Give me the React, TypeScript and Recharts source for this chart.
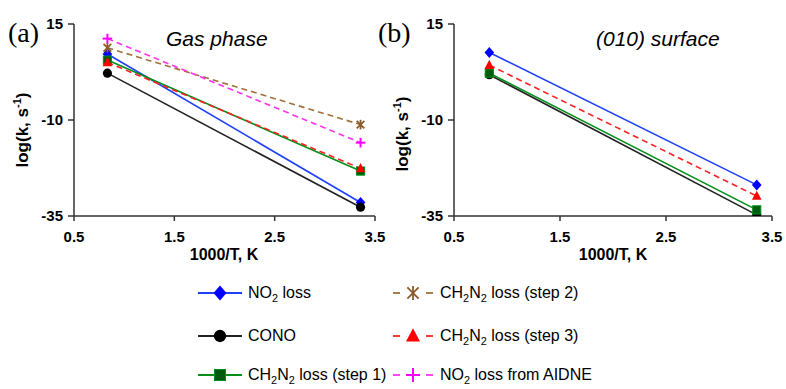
import React from 'react';
import { LineChart, Line, XAxis, YAxis } from 'recharts';

// 1000/T values for the two temperatures
const xValues = [0.833, 3.356];

// Gas phase, log(k)
const gasNO2 = [7.2, -31.5];
const gasCONO = [2.2, -32.7];
const gasStep1 = [5.6, -23.3];
const gasStep2 = [8.8, -11.2];
const gasStep3 = [5.0, -22.6];
const gasAidne = [11.2, -15.9];

// (010) surface, log(k)
const surfNO2 = [7.6, -26.9];
const surfCONO = [1.8, -34.7];
const surfStep1 = [2.2, -33.4];
const surfStep3 = [4.3, -29.8];

const xTicks = [0.5, 1.5, 2.5, 3.5];
const yTicks = [-35, -10, 15];

const FONT = 'Arial, "Liberation Sans", sans-serif';
const AXIS = '#333333';

type Shape = 'diamond' | 'circle' | 'square' | 'star' | 'triangle' | 'plus';

const seriesStyle: Record<string, { color: string; fill: string; shape: Shape; dash?: string; label: string }> = {
  no2: { color: '#1f3fff', fill: '#0000ff', shape: 'diamond', label: 'NO2 loss' },
  cono: { color: '#222222', fill: '#000000', shape: 'circle', label: 'CONO' },
  step1: { color: '#00901a', fill: '#005a10', shape: 'square', label: 'CH2N2 loss (step 1)' },
  step2: { color: '#a0703a', fill: '#8b5a2b', shape: 'star', dash: '6 4', label: 'CH2N2 loss (step 2)' },
  step3: { color: '#ff2020', fill: '#ff0000', shape: 'triangle', dash: '6 4', label: 'CH2N2 loss (step 3)' },
  aidne: { color: '#ff33ee', fill: '#ff00ff', shape: 'plus', dash: '6 4', label: 'NO2 loss from AIDNE' },
};

function Marker({ shape, cx, cy, s, color, fill }: { shape: Shape; cx: number; cy: number; s: number; color: string; fill: string }) {
  if (shape === 'diamond')
    return <polygon points={`${cx},${cy - s * 1.15} ${cx + s},${cy} ${cx},${cy + s * 1.15} ${cx - s},${cy}`} fill={fill} />;
  if (shape === 'circle') return <circle cx={cx} cy={cy} r={s * 0.95} fill={fill} />;
  if (shape === 'square')
    return <rect x={cx - s * 0.85} y={cy - s * 0.85} width={s * 1.7} height={s * 1.7} fill={fill} stroke={color} strokeWidth={1} />;
  if (shape === 'triangle')
    return <polygon points={`${cx},${cy - s * 1.1} ${cx + s},${cy + s * 0.8} ${cx - s},${cy + s * 0.8}`} fill={fill} />;
  if (shape === 'plus')
    return (
      <g stroke={fill} strokeWidth={2}>
        <line x1={cx - s} y1={cy} x2={cx + s} y2={cy} />
        <line x1={cx} y1={cy - s} x2={cx} y2={cy + s} />
      </g>
    );
  // star: X plus vertical bar
  return (
    <g stroke={fill} strokeWidth={1.8}>
      <line x1={cx - s * 0.8} y1={cy - s * 0.8} x2={cx + s * 0.8} y2={cy + s * 0.8} />
      <line x1={cx - s * 0.8} y1={cy + s * 0.8} x2={cx + s * 0.8} y2={cy - s * 0.8} />
      <line x1={cx} y1={cy - s} x2={cx} y2={cy + s} />
    </g>
  );
}

const toPoints = (ys: number[]) => ys.map((y, i) => ({ x: xValues[i], y }));

function makeDot(key: string) {
  const st = seriesStyle[key];
  return (props: any) => (
    <Marker key={`${key}-${props.index}`} shape={st.shape} cx={props.cx} cy={props.cy} s={4.8} color={st.color} fill={st.fill} />
  );
}

// digits right after a capital letter become subscripts
function Formula({ text, x, y, size }: { text: string; x: number; y: number; size: number }) {
  const parts: React.ReactNode[] = [];
  let buf = '';
  let sub = false;
  let wasSub = false;
  const flush = (k: number) => {
    if (!buf) return;
    if (sub) {
      parts.push(<tspan key={k} fontSize={size * 0.68} dy={size * 0.26}>{buf}</tspan>);
    } else {
      parts.push(<tspan key={k} dy={wasSub ? -size * 0.26 : 0}>{buf}</tspan>);
    }
    wasSub = sub;
    buf = '';
  };
  for (let i = 0; i < text.length; i++) {
    const c = text[i];
    const isSub = /[0-9]/.test(c) && i > 0 && /[A-Z]/.test(text[i - 1]);
    if (isSub !== sub) {
      flush(i);
      sub = isSub;
    }
    buf += c;
  }
  flush(text.length);
  return (
    <text x={x} y={y} fontSize={size} fontFamily={FONT} fill="#000">
      {parts}
    </text>
  );
}

function Panel({ series, left, width, plotWidth }: { series: [string, number[]][]; left: number; width: number; plotWidth: number }) {
  return (
    <div style={{ position: 'absolute', left, top: 0 }}>
      <LineChart width={width} height={270} margin={{ top: 24, right: width - 74 - plotWidth, bottom: 0, left: 0 }}>
        <XAxis
          type="number"
          dataKey="x"
          domain={[0.5, 3.5]}
          ticks={xTicks}
          allowDataOverflow
          height={54}
          stroke={AXIS}
          strokeWidth={1.5}
          tickSize={5}
          tickMargin={10}
          tickFormatter={(v: number) => v.toFixed(1)}
          tick={{ fill: '#000', fontSize: 15, fontWeight: 'bold', fontFamily: FONT }}
        />
        <YAxis
          type="number"
          dataKey="y"
          domain={[-35, 15]}
          ticks={yTicks}
          allowDataOverflow
          width={74}
          stroke={AXIS}
          strokeWidth={1.5}
          tickSize={6}
          tickMargin={5}
          tick={{ fill: '#000', fontSize: 15, fontWeight: 'bold', fontFamily: FONT }}
        />
        {series.map(([key, ys]) => {
          const st = seriesStyle[key];
          return (
            <Line
              key={key}
              data={toPoints(ys)}
              dataKey="y"
              type="linear"
              stroke={st.color}
              strokeWidth={1.6}
              strokeDasharray={st.dash}
              dot={makeDot(key)}
              activeDot={false}
              isAnimationActive={false}
            />
          );
        })}
      </LineChart>
    </div>
  );
}

function YLabel({ x, y }: { x: number; y: number }) {
  return (
    <text transform={`translate(${x},${y}) rotate(-90)`} textAnchor="middle" fontSize={17} fontWeight="bold" fontFamily={FONT}>
      log(k, s
      <tspan fontSize={11} dy={-7}>-1</tspan>
      <tspan dy={7}>)</tspan>
    </text>
  );
}

const legendRows = [293, 336, 375];

export default function App() {
  const legendLeft = ['no2', 'cono', 'step1'];
  const legendRight = ['step2', 'step3', 'aidne'];
  return (
    <div style={{ position: 'absolute', left: 0, top: 0, width: 786, height: 389, background: '#fff', overflow: 'hidden' }}>
      <Panel
        left={0}
        width={390}
        plotWidth={301}
        series={[
          ['no2', gasNO2],
          ['cono', gasCONO],
          ['step1', gasStep1],
          ['step2', gasStep2],
          ['step3', gasStep3],
          ['aidne', gasAidne],
        ]}
      />
      <Panel
        left={380}
        width={406}
        plotWidth={318}
        series={[
          ['no2', surfNO2],
          ['cono', surfCONO],
          ['step1', surfStep1],
          ['step3', surfStep3],
        ]}
      />
      <svg width={786} height={389} style={{ position: 'absolute', left: 0, top: 0, pointerEvents: 'none' }}>
        <text x={8} y={42} fontSize={28} fontFamily='"Liberation Serif", "Times New Roman", serif'>(a)</text>
        <text x={378} y={42} fontSize={28} fontFamily='"Liberation Serif", "Times New Roman", serif'>(b)</text>
        <text x={166} y={46} fontSize={21} fontStyle="italic" fontFamily={FONT}>Gas phase</text>
        <text x={596} y={46} fontSize={21} fontStyle="italic" fontFamily={FONT}>(010) surface</text>
        <YLabel x={28} y={130} />
        <YLabel x={408} y={134} />
        <text x={224} y={260} textAnchor="middle" fontSize={16} fontWeight="bold" fontFamily={FONT}>1000/T, K</text>
        <text x={613} y={260} textAnchor="middle" fontSize={16} fontWeight="bold" fontFamily={FONT}>1000/T, K</text>
        {legendLeft.map((key, i) => {
          const st = seriesStyle[key];
          const cy = legendRows[i];
          return (
            <g key={key}>
              <line x1={198} y1={cy} x2={242} y2={cy} stroke={st.color} strokeWidth={1.8} />
              <Marker shape={st.shape} cx={220} cy={cy} s={6.5} color={st.color} fill={st.fill} />
              <Formula text={st.label} x={248} y={cy + 5} size={16} />
            </g>
          );
        })}
        {legendRight.map((key, i) => {
          const st = seriesStyle[key];
          const cy = legendRows[i];
          return (
            <g key={key}>
              <line x1={393} y1={cy} x2={400} y2={cy} stroke={st.color} strokeWidth={1.8} />
              <line x1={426} y1={cy} x2={433} y2={cy} stroke={st.color} strokeWidth={1.8} />
              <Marker shape={st.shape} cx={413} cy={cy} s={7} color={st.color} fill={st.fill} />
              <Formula text={st.label} x={440} y={cy + 5} size={16} />
            </g>
          );
        })}
      </svg>
    </div>
  );
}
